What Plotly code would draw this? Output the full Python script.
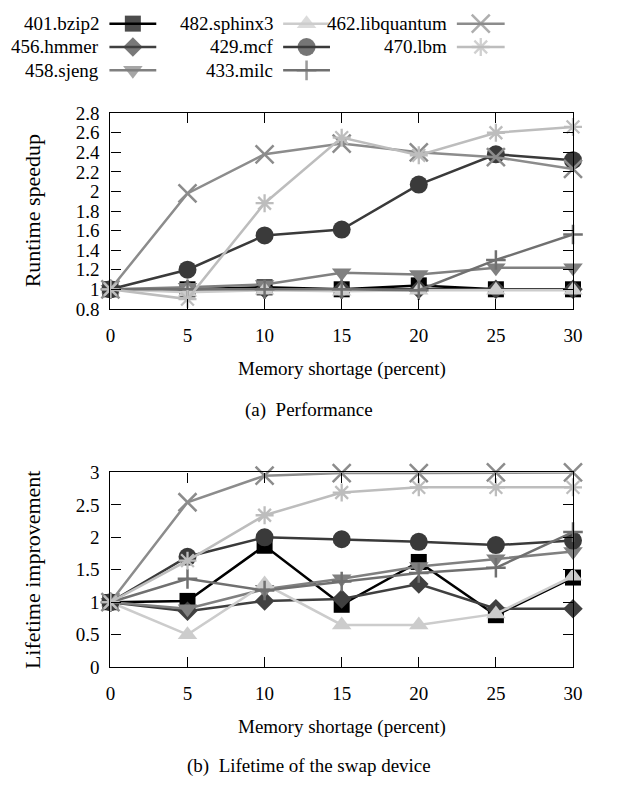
import plotly.graph_objects as go

# ---------------- data ----------------
shortage = [0, 5, 10, 15, 20, 25, 30]
benchmarks = ["401.bzip2", "456.hmmer", "458.sjeng", "482.sphinx3",
              "429.mcf", "433.milc", "462.libquantum", "470.lbm"]

speedup_bzip2 = [1.0, 1.0, 1.02, 1.0, 1.04, 1.0, 1.0]
speedup_hmmer = [1.0, 1.0, 1.0, 1.0, 1.0, 1.0, 1.0]
speedup_sjeng = [1.0, 1.02, 1.05, 1.17, 1.15, 1.22, 1.22]
speedup_sphinx3 = [1.0, 0.97, 0.99, 0.98, 0.99, 0.99, 0.99]
speedup_mcf = [1.0, 1.2, 1.55, 1.61, 2.07, 2.38, 2.32]
speedup_milc = [1.0, 1.0, 1.0, 1.0, 0.99, 1.30, 1.56]
speedup_libquantum = [1.0, 1.98, 2.38, 2.49, 2.40, 2.35, 2.23]
speedup_lbm = [1.0, 0.9, 1.88, 2.55, 2.37, 2.60, 2.66]

life_bzip2 = [1.0, 1.02, 1.87, 0.96, 1.62, 0.80, 1.38]
life_hmmer = [1.0, 0.86, 1.02, 1.05, 1.28, 0.90, 0.90]
life_sjeng = [1.0, 0.90, 1.20, 1.36, 1.55, 1.67, 1.78]
life_sphinx3 = [1.0, 0.50, 1.28, 0.65, 0.65, 0.82, 1.40]
life_mcf = [1.0, 1.70, 2.00, 1.97, 1.93, 1.88, 1.95]
life_milc = [1.0, 1.36, 1.18, 1.32, 1.45, 1.53, 2.08]
life_libquantum = [1.0, 2.54, 2.95, 2.99, 2.99, 3.0, 3.0]
life_lbm = [1.0, 1.64, 2.34, 2.69, 2.77, 2.77, 2.77]

x_ticks = [0, 5, 10, 15, 20, 25, 30]
speedup_ticks = [0.8, 1.0, 1.2, 1.4, 1.6, 1.8, 2.0, 2.2, 2.4, 2.6, 2.8]
speedup_ticktext = ["0.8", "1", "1.2", "1.4", "1.6", "1.8", "2", "2.2", "2.4", "2.6", "2.8"]
life_ticks = [0, 0.5, 1, 1.5, 2, 2.5, 3]
life_ticktext = ["0", "0.5", "1", "1.5", "2", "2.5", "3"]

speedup = [speedup_bzip2, speedup_hmmer, speedup_sjeng, speedup_sphinx3,
           speedup_mcf, speedup_milc, speedup_libquantum, speedup_lbm]
life = [life_bzip2, life_hmmer, life_sjeng, life_sphinx3,
        life_mcf, life_milc, life_libquantum, life_lbm]

# ---------------- styles ----------------
FONT = "Liberation Serif"
FS = 19
W, H = 623, 792
styles = [
    dict(color="#000000", symbol="square", size=16, lw=0),
    dict(color="#404040", symbol="diamond", size=15, lw=0),
    dict(color="#808080", symbol="triangle-down", size=17, lw=0),
    dict(color="#cccccc", symbol="triangle-up", size=17, lw=0),
    dict(color="#3a3a3a", symbol="circle", size=18, lw=0),
    dict(color="#707070", symbol="cross-thin", size=14, lw=2.5),
    dict(color="#8c8c8c", symbol="x-thin", size=18, lw=2.5),
    dict(color="#bdbdbd", symbol="asterisk", size=15, lw=2.3),
]
LINE_W = 2.5

def px_x(p):
    return p / W

def px_y(p):
    return 1 - p / H

fig = go.Figure()

def marker(st):
    return dict(symbol=st["symbol"], size=st["size"], color=st["color"],
                line=dict(color=st["color"], width=st["lw"]))

for name, vals, st in zip(benchmarks, speedup, styles):
    fig.add_trace(go.Scatter(x=shortage, y=vals, mode="lines+markers", name=name,
                             line=dict(color=st["color"], width=LINE_W),
                             marker=marker(st), cliponaxis=False,
                             xaxis="x", yaxis="y", showlegend=False))
for name, vals, st in zip(benchmarks, life, styles):
    fig.add_trace(go.Scatter(x=shortage, y=vals, mode="lines+markers", name=name,
                             line=dict(color=st["color"], width=LINE_W),
                             marker=marker(st), cliponaxis=False,
                             xaxis="x2", yaxis="y2", showlegend=False))

# ---------------- custom legend (text left of sample) ----------------
leg_cols_text_right = [98, 277, 455]
leg_cols_sample = [(107, 155), (285, 333), (463, 512)]
leg_rows = [14, 38, 62]
annotations = []
for i, (name, st) in enumerate(zip(benchmarks, styles)):
    c, r = divmod(i, 3)
    x1, x2 = leg_cols_sample[c]
    yr = leg_rows[r]
    fig.add_trace(go.Scatter(
        x=[x1, (x1 + x2) / 2, x2], y=[yr, yr, yr], mode="lines+markers",
        line=dict(color=st["color"], width=LINE_W),
        marker=dict(symbol=st["symbol"], size=[0, st["size"], 0], color=st["color"],
                    line=dict(color=st["color"], width=st["lw"])),
        xaxis="x3", yaxis="y3", showlegend=False, cliponaxis=False, hoverinfo="skip"))
    annotations.append(dict(text=name, x=px_x(leg_cols_text_right[c]), y=px_y(yr),
                            xref="paper", yref="paper", xanchor="right", yanchor="middle",
                            showarrow=False, font=dict(family=FONT, size=FS, color="black")))

# ---------------- axes ----------------
X0, X1 = 108, 582
TOP = (106, 307)
BOT = (475, 675)

def xaxis(domain_anchor):
    return dict(domain=[px_x(X0), px_x(X1)], range=[0, 30], tickvals=x_ticks,
                ticktext=[str(v) for v in x_ticks],
                ticks="inside", ticklen=10, tickwidth=1.2, tickcolor="black",
                showline=True, linecolor="black", linewidth=1.4, mirror="ticks",
                showgrid=False, zeroline=False, anchor=domain_anchor,
                ticklabelstandoff=9,
                tickfont=dict(family=FONT, size=FS, color="black"))

def yaxis(top_bot, rng, tv, tt, anchor):
    return dict(domain=[px_y(top_bot[1]), px_y(top_bot[0])], range=rng, tickvals=tv,
                ticktext=tt, ticks="inside", ticklen=10, tickwidth=1.2, tickcolor="black",
                showline=True, linecolor="black", linewidth=1.4, mirror="ticks",
                showgrid=False, zeroline=False, anchor=anchor,
                ticklabelstandoff=6,
                tickfont=dict(family=FONT, size=FS, color="black"))

def txt(s, xp, yp, angle=0, size=FS):
    return dict(text=s, x=px_x(xp), y=px_y(yp), xref="paper", yref="paper",
                xanchor="center", yanchor="middle", showarrow=False, textangle=angle,
                font=dict(family=FONT, size=size, color="black"))

cx = (X0 + X1) / 2
annotations += [
    txt("Runtime speedup", 28, (TOP[0] + TOP[1]) / 2, -90, 22),
    txt("Memory shortage (percent)", cx, 369),
    txt("(a)\u00a0\u00a0Performance", 312, 411),
    txt("Lifetime improvement", 28, (BOT[0] + BOT[1]) / 2, -90, 22),
    txt("Memory shortage (percent)", cx, 737),
    txt("(b)\u00a0\u00a0Lifetime of the swap device", 312, 777),
]

fig.update_layout(
    width=W, height=H, autosize=False,
    margin=dict(l=0, r=0, t=0, b=0),
    paper_bgcolor="white", plot_bgcolor="rgba(0,0,0,0)",
    font=dict(family=FONT, size=FS, color="black"),
    xaxis=xaxis("y"),
    yaxis=yaxis(TOP, [0.8, 2.8], speedup_ticks, speedup_ticktext, "x"),
    xaxis2=xaxis("y2"),
    yaxis2=yaxis(BOT, [0, 3], life_ticks, life_ticktext, "x2"),
    xaxis3=dict(domain=[0, 1], range=[0, W], visible=False, anchor="y3", fixedrange=True),
    yaxis3=dict(domain=[0, 1], range=[H, 0], visible=False, anchor="x3", fixedrange=True),
    annotations=annotations,
    showlegend=False,
)

fig.write_html(
    "out.html",
    config={"displayModeBar": False},
    post_script="document.body.style.margin='0px';document.body.style.overflow='hidden';",
)
